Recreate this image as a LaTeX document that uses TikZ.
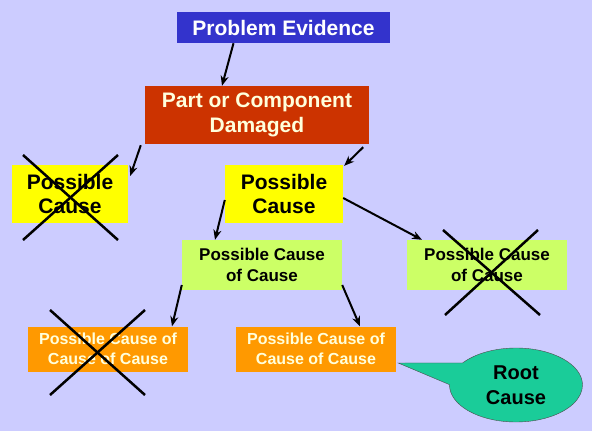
\documentclass[tikz,border=0pt]{standalone}
\usepackage{fontspec}
\setmainfont{Liberation Sans}
\definecolor{SlideBg}{RGB}{204, 204, 255}
\definecolor{EvBlue}{RGB}{51, 51, 204}
\definecolor{DamRed}{RGB}{204, 51, 0}
\definecolor{CauseYel}{RGB}{255, 255, 0}
\definecolor{CauseLime}{RGB}{204, 255, 102}
\definecolor{CauseOra}{RGB}{255, 153, 0}
\definecolor{RootTeal}{RGB}{26, 204, 153}
\definecolor{PaleTxt}{RGB}{255, 255, 220}
\usetikzlibrary{arrows.meta, shapes.geometric, shapes.callouts, positioning, calc}

\begin{document}
\begin{tikzpicture}[x=1pt, y=-1pt,
	box/.style={rectangle, inner sep=0pt, align=center, font=\bfseries},
	big/.style={box, font=\bfseries\fontsize{21}{24.5}\selectfont},
	mid/.style={box, fill=CauseLime, minimum width=160pt, minimum height=50pt,
		font=\bfseries\fontsize{17}{21}\selectfont},
	low/.style={box, fill=CauseOra, text=PaleTxt, minimum width=160pt, minimum height=45pt,
		font=\bfseries\fontsize{16}{20}\selectfont},
	fl/.style={-{Stealth[length=10pt, width=8pt]}, line width=2pt, black},
	xout/.style={line width=2.5pt, black}]
	\fill[SlideBg] (0,0) rectangle (592,431);
	\useasboundingbox (0,0) rectangle (592,431);
	\node[big, fill=EvBlue, text=white, minimum width=213pt, minimum height=31pt] (E) at (283.5,27.5) {Problem Evidence};
	\node[big, fill=DamRed, text=PaleTxt, minimum width=224pt, minimum height=58pt] (D) at (257,115) {Part or Component\\Damaged};
	\node[big, fill=CauseYel, minimum width=116pt, minimum height=58pt] (P1) at (70,194) {Possible\\Cause};
	\node[big, fill=CauseYel, minimum width=118pt, minimum height=58pt] (P2) at (284,194) {Possible\\Cause};
	\node[mid] (G1) at (262,265) {Possible Cause\\of Cause};
	\node[mid] (G2) at (487,265) {Possible Cause\\of Cause};
	\node[low] (O1) at (108,349) {Possible Cause of\\Cause of Cause};
	\node[low] (O2) at (316,349) {Possible Cause of\\Cause of Cause};
	\node[ellipse callout, draw=black!70, fill=RootTeal, minimum width=133pt, minimum height=74pt,
		callout absolute pointer={([xshift=2pt, yshift=-14pt]O2.east)}, callout pointer arc=36,
		align=center, font=\bfseries\fontsize{20}{25}\selectfont] (R) at (516,385) {Root\\Cause};
	\draw[fl] ([xshift=-50pt]E.south) -- ([xshift=-35pt]D.north);
	\draw[fl] ([xshift=-4pt, yshift=-1pt]D.south west) -- ([xshift=2pt, yshift=18pt]P1.east);
	\draw[fl] ([xshift=-6pt, yshift=-3pt]D.south east) -- ([xshift=1pt, yshift=-1pt]P2.north east);
	\draw[fl] ([yshift=-6pt]P2.west) -- ([xshift=-47pt]G1.north);
	\draw[fl] ([yshift=-4pt]P2.east) -- ([xshift=-65pt]G2.north);
	\draw[fl] ([yshift=-20pt]G1.west) -- ([xshift=64pt]O1.north);
	\draw[fl] ([yshift=-20pt]G1.east) -- ([xshift=44pt]O2.north);
	% crossed-out causes
	\draw[xout] ($(P1.center)+(-47,-39)$) -- ($(P1.center)+(48,46)$);
	\draw[xout] ($(P1.center)+(48,-39)$) -- ($(P1.center)+(-47,46)$);
	\draw[xout] ($(G2.center)+(-44,-35)$) -- ($(G2.center)+(53,50)$);
	\draw[xout] ($(G2.center)+(51,-35)$) -- ($(G2.center)+(-42,50)$);
	\draw[xout] ($(O1.center)+(-58,-39)$) -- ($(O1.center)+(37,46)$);
	\draw[xout] ($(O1.center)+(37,-39)$) -- ($(O1.center)+(-58,46)$);
\end{tikzpicture}
\end{document}
